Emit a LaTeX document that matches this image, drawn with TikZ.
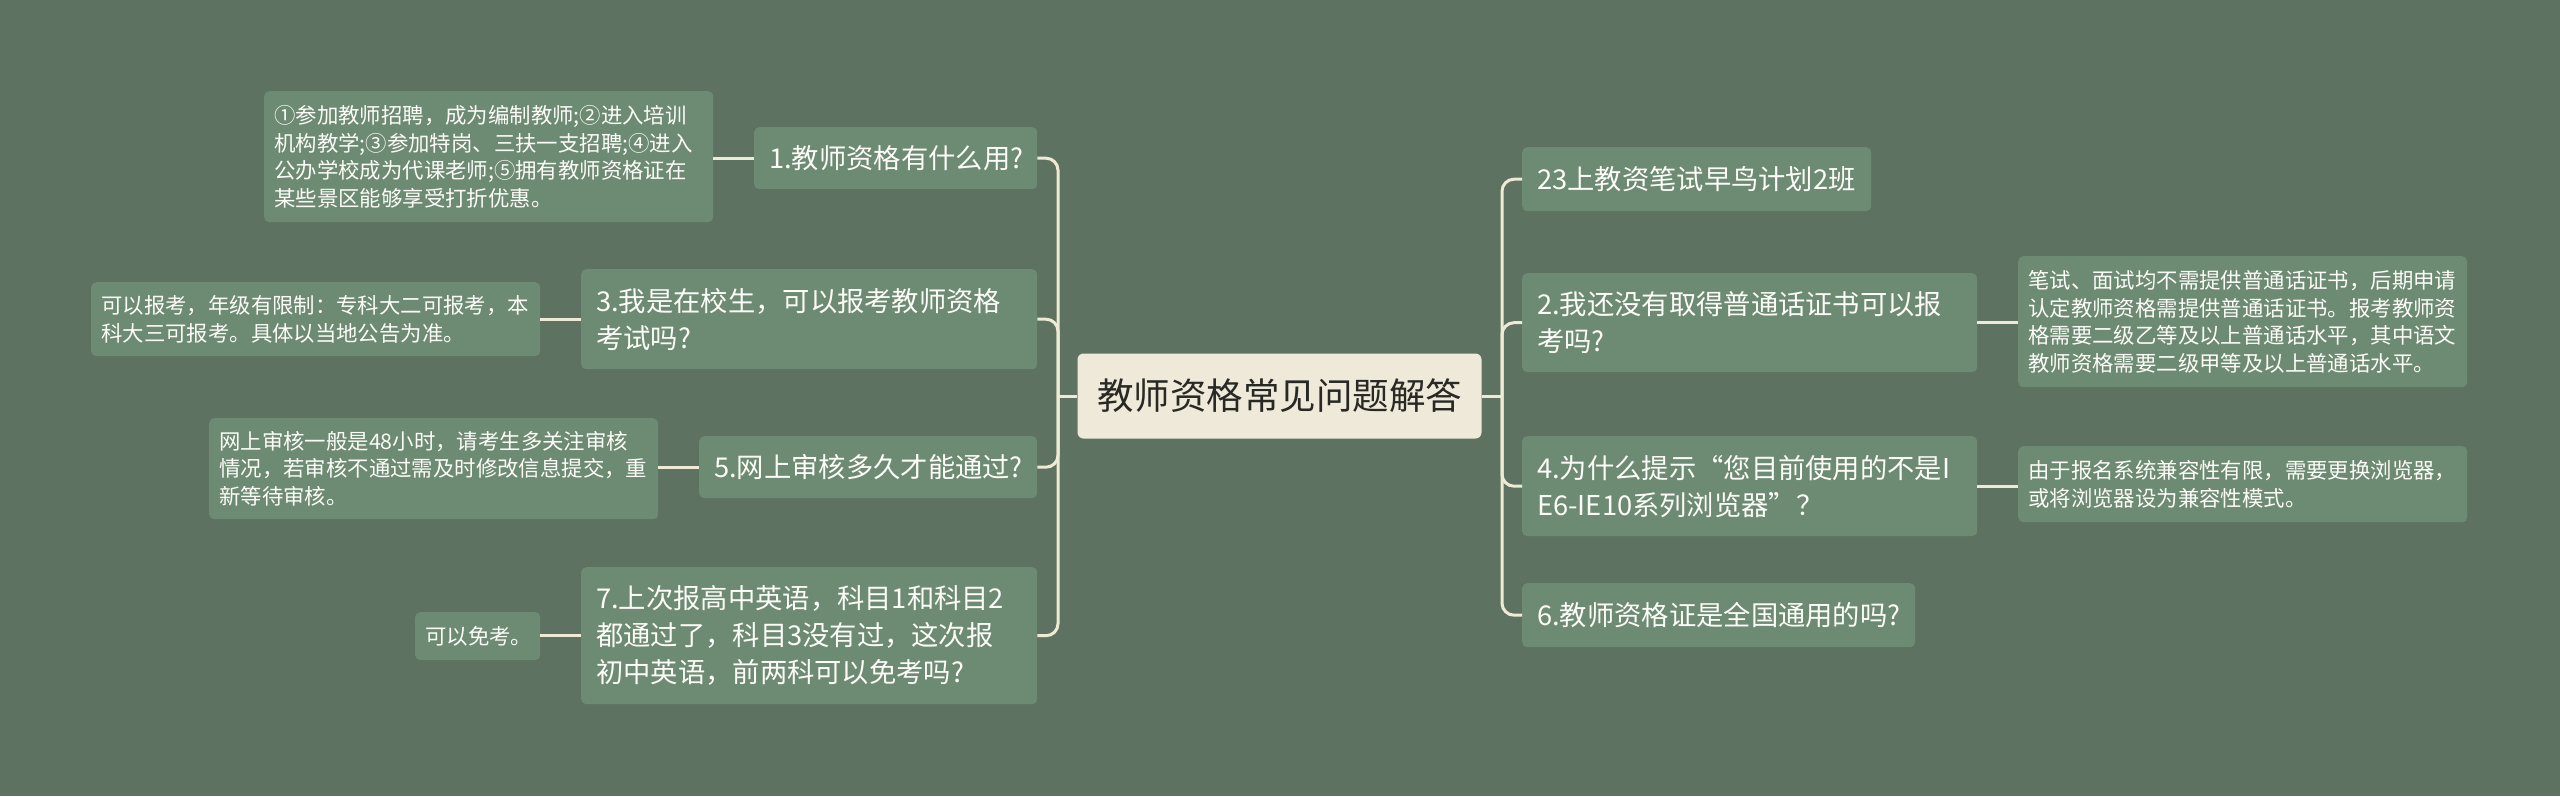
\documentclass[tikz,border=0pt]{standalone}
\usepackage{fontspec}
\setmainfont{Noto Sans CJK SC}
\definecolor{bgc}{RGB}{94,114,98}
\definecolor{boxc}{RGB}{109,138,114}
\definecolor{linec}{RGB}{238,234,214}
\definecolor{rootc}{RGB}{238,233,217}
\definecolor{roottext}{RGB}{40,40,36}
\definecolor{txtc}{RGB}{252,252,248}
\begin{document}
\begin{tikzpicture}[x=1pt,y=-1pt,
  qbox/.style={fill=boxc, rounded corners=5pt, text=txtc, align=left, anchor=north west,
    inner xsep=15pt, inner ysep=0pt, font=\fontsize{27.3}{37}\selectfont},
  dbox/.style={fill=boxc, rounded corners=5pt, text=txtc, align=left, anchor=north west,
    inner xsep=10pt, inner ysep=0pt, font=\fontsize{21.4}{27.5}\selectfont},
  rootbox/.style={fill=rootc, rounded corners=6pt, text=roottext, inner sep=0pt,
    font=\fontsize{36.5}{44}\selectfont},
  link/.style={draw=linec, line width=3pt, rounded corners=12pt}]
\fill[bgc] (0,0) rectangle (2560,796);
\useasboundingbox (0,0) rectangle (2560,796);

% root
\node[rootbox, minimum width=404pt, minimum height=85pt] (C) at (1279.5,396) {教师资格常见问题解答};

% left questions
\node[qbox, text width=253pt, minimum height=62pt] (N1) at (754,127) {1.教师资格有什么用?};
\node[qbox, text width=426pt, minimum height=100pt] (N3) at (581,269) {3.我是在校生，可以报考教师资格\\考试吗?};
\node[qbox, text width=308pt, minimum height=62pt] (N5) at (699,436) {5.网上审核多久才能通过?};
\node[qbox, text width=426pt, minimum height=137pt] (N7) at (581,567) {7.上次报高中英语，科目1和科目2\\都通过了，科目3没有过，这次报\\初中英语，前两科可以免考吗?};

% left details
\node[dbox, text width=429pt, minimum height=131pt] (D1) at (264,91) {①参加教师招聘，成为编制教师;②进入培训\\机构教学;③参加特岗、三扶一支招聘;④进入\\公办学校成为代课老师;⑤拥有教师资格证在\\某些景区能够享受打折优惠。};
\node[dbox, text width=429pt, minimum height=74pt] (D3) at (91,282) {可以报考，年级有限制：专科大二可报考，本\\科大三可报考。具体以当地公告为准。};
\node[dbox, text width=429pt, minimum height=101pt] (D5) at (209,418) {网上审核一般是48小时，请考生多关注审核\\情况，若审核不通过需及时修改信息提交，重\\新等待审核。};
\node[dbox, text width=105pt, minimum height=48pt] (D7) at (415,612) {可以免考。};

% right questions
\node[qbox, text width=319pt, minimum height=64pt] (R0) at (1522,147) {23上教资笔试早鸟计划2班};
\node[qbox, text width=425pt, minimum height=99pt] (R2) at (1522,273) {2.我还没有取得普通话证书可以报\\考吗?};
\node[qbox, text width=425pt, minimum height=100pt] (R4) at (1522,436) {4.为什么提示“您目前使用的不是I\\E6-IE10系列浏览器”？};
\node[qbox, text width=363pt, minimum height=64pt] (R6) at (1522,583) {6.教师资格证是全国通用的吗?};

% right details
\node[dbox, text width=429pt, minimum height=131pt] (RD2) at (2018,256) {笔试、面试均不需提供普通话证书，后期申请\\认定教师资格需提供普通话证书。报考教师资\\格需要二级乙等及以上普通话水平，其中语文\\教师资格需要二级甲等及以上普通话水平。};
\node[dbox, text width=429pt, minimum height=76pt] (RD4) at (2018,446) {由于报名系统兼容性有限，需要更换浏览器，\\或将浏览器设为兼容性模式。};

% connectors
\coordinate (lj) at (1058,396);
\coordinate (rj) at (1502,396);
\draw[link] (C.west) -- (lj);
\draw[link] (C.east) -- (rj);
\draw[link] (lj) |- (N1.east);
\draw[link] (lj) |- (N3.east);
\draw[link] (lj) |- (N5.east);
\draw[link] (lj) |- (N7.east);
\draw[link] (rj) |- (R0.west);
\draw[link] (rj) |- (R2.west);
\draw[link] (rj) |- (R4.west);
\draw[link] (rj) |- (R6.west);

\draw[link] (N1.west) -- (D1.east |- N1.west);
\draw[link] (N3.west) -- (D3.east |- N3.west);
\draw[link] (N5.west) -- (D5.east |- N5.west);
\draw[link] (N7.west) -- (D7.east |- N7.west);
\draw[link] (R2.east) -- (RD2.west |- R2.east);
\draw[link] (R4.east) -- (RD4.west |- R4.east);
\end{tikzpicture}
\end{document}
